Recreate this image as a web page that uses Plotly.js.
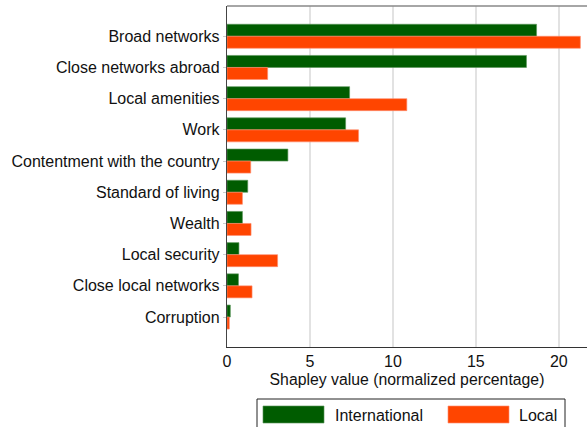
<!DOCTYPE html>
<html>
<head>
<meta charset="utf-8">
<script src="https://cdn.plot.ly/plotly-3.0.1.min.js"></script>
<style>html,body{margin:0;padding:0;background:#fff;}#chart{width:587px;height:427px;}</style>
</head>
<body>
<div id="chart"></div>
<script>
const categories = ["Broad networks", "Close networks abroad", "Local amenities", "Work",
  "Contentment with the country", "Standard of living", "Wealth", "Local security",
  "Close local networks", "Corruption"];
const international = [18.66, 18.05, 7.39, 7.15, 3.67, 1.25, 0.93, 0.72, 0.69, 0.20];
const local = [21.30, 2.45, 10.84, 7.93, 1.43, 0.93, 1.45, 3.05, 1.51, 0.14];
const seriesNames = ["International", "Local"];
const xTicks = [0, 5, 10, 15, 20];

const FONT = "Liberation Sans, Arial, Helvetica, sans-serif";
const GREEN = "#005c00";
const ORANGE = "#ff4500";

const traces = [
  {type: "bar", orientation: "h", name: seriesNames[0], y: categories, x: international,
   marker: {color: GREEN, line: {color: "rgba(90,150,90,0.8)", width: 0.8}}, showlegend: false},
  {type: "bar", orientation: "h", name: seriesNames[1], y: categories, x: local,
   marker: {color: ORANGE, line: {color: "rgba(255,140,110,0.8)", width: 0.8}}, showlegend: false}
];

// pixel helpers for paper coords (plot area: x 227..587, y 6..347)
const px = v => (v - 227) / 360;
const py = v => (347 - v) / 341;

const layout = {
  width: 587, height: 427,
  margin: {l: 227, r: 0, t: 6, b: 80, pad: 0},
  paper_bgcolor: "#fff", plot_bgcolor: "#fff",
  font: {family: FONT, size: 16, color: "#111"},
  barmode: "group", bargap: 0.23, bargroupgap: 0,
  xaxis: {range: [0, 21.7], tickvals: xTicks, ticktext: xTicks.map(String),
    showgrid: true, gridcolor: "#e2e2e2", gridwidth: 1.5, zeroline: false,
    showline: true, linecolor: "#333", linewidth: 1, ticks: "",
    tickfont: {size: 16, color: "#111", family: FONT},
    title: {text: "Shapley value (normalized percentage)", font: {size: 15.8, color: "#111", family: FONT}, standoff: 4},
    fixedrange: true},
  yaxis: {type: "category", categoryorder: "array", categoryarray: categories,
    range: [9.96, -0.97], showgrid: false, zeroline: false,
    showline: true, linecolor: "#444", linewidth: 1.2,
    ticks: "outside", ticklen: 3, tickcolor: "#ccc",
    tickfont: {size: 16, color: "#111", family: FONT}, fixedrange: true},
  shapes: [
    {type: "line", xref: "paper", yref: "paper", x0: 0, x1: 1, y0: 1, y1: 1, line: {color: "#888", width: 1.5}},
    {type: "rect", xref: "paper", yref: "paper", x0: px(257), x1: px(565), y0: py(399), y1: py(432),
     line: {color: "#222", width: 1}, fillcolor: "rgba(0,0,0,0)"},
    {type: "rect", xref: "paper", yref: "paper", x0: px(263), x1: px(324), y0: py(406), y1: py(423),
     line: {color: "rgba(90,150,90,0.8)", width: 0.8}, fillcolor: GREEN},
    {type: "rect", xref: "paper", yref: "paper", x0: px(448), x1: px(509), y0: py(406), y1: py(423),
     line: {color: "rgba(255,140,110,0.8)", width: 0.8}, fillcolor: ORANGE}
  ],
  annotations: [
    {xref: "paper", yref: "paper", x: px(333), y: py(415), xanchor: "left", yanchor: "middle",
     text: seriesNames[0], showarrow: false, font: {size: 16, color: "#111", family: FONT}},
    {xref: "paper", yref: "paper", x: px(517), y: py(415), xanchor: "left", yanchor: "middle",
     text: seriesNames[1], showarrow: false, font: {size: 16, color: "#111", family: FONT}}
  ],
  showlegend: false
};

Plotly.newPlot("chart", traces, layout, {displayModeBar: false, staticPlot: true});
</script>
</body>
</html>
